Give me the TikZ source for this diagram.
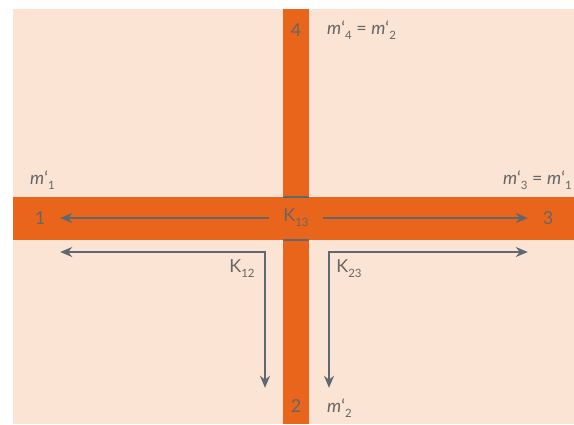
\documentclass[tikz,border=0pt]{standalone}
\usepackage{fontspec}
\setmainfont{Lato}
\usetikzlibrary{arrows.meta}
\definecolor{peach}{HTML}{FCE4D4}
\definecolor{pipe}{HTML}{E9651B}
\definecolor{arrowgray}{HTML}{5E6870}
\definecolor{txtgray}{HTML}{666666}
\newcommand{\mflow}[1]{\textit{m}‘\raisebox{-0.55ex}{\fontsize{11.5}{12}\selectfont #1}}
\newcommand{\kcoef}[1]{K\raisebox{-0.55ex}{\fontsize{11.5}{12}\selectfont #1}}
\begin{document}
\begin{tikzpicture}[x=1bp, y=-1bp, >={Stealth[length=12bp,width=10bp]},
 font=\fontsize{18}{21}\selectfont, text=txtgray,
 num/.style={minimum width=40bp,minimum height=36bp,inner sep=0pt},
 lbl/.style={inner sep=0pt},
 flow/.style={->,line width=1.8bp,draw=arrowgray}]
\useasboundingbox (0,0) rectangle (574,424);
\fill[peach] (13,9) rectangle (574,424);
\fill[pipe] (13,197) rectangle (574,240);
\fill[pipe] (283,9) rectangle (309,424);
\draw[arrowgray,line width=1.2bp] (283,197) -- (309,197) (283,240) -- (309,240);
\node[num] (p1) at (40,218) {1};
\node[num] (p3) at (548,218) {3};
\node[num] (p4) at (296,30) {4};
\node[num] (p2) at (296,406) {2};
\node[lbl,minimum width=54bp] (k13) at (296,218) {\kcoef{13}};
\node[lbl] (k12) at (242,269) {\kcoef{12}};
\node[lbl] (k23) at (349,269) {\kcoef{23}};
\node[lbl,anchor=west] (m1) at (30,180) {\mflow{1}};
\node[lbl,anchor=east] (m3) at (572,180) {\mflow{3} = \mflow{1}};
\node[lbl,anchor=west] (m4) at (327,30) {\mflow{4} = \mflow{2}};
\node[lbl,anchor=west] (m2) at (327,408) {\mflow{2}};
\coordinate (c12) at (265,252);
\coordinate (c23) at (329,252);
\draw[flow] (k13) -- (p1);
\draw[flow] (k13) -- (p3);
\draw[flow,<->] (p1.east |- c12) -- (c12) -- (c12 |- p2.north);
\draw[flow,<->] (p3.west |- c23) -- (c23) -- (c23 |- p2.north);
\end{tikzpicture}
\end{document}
